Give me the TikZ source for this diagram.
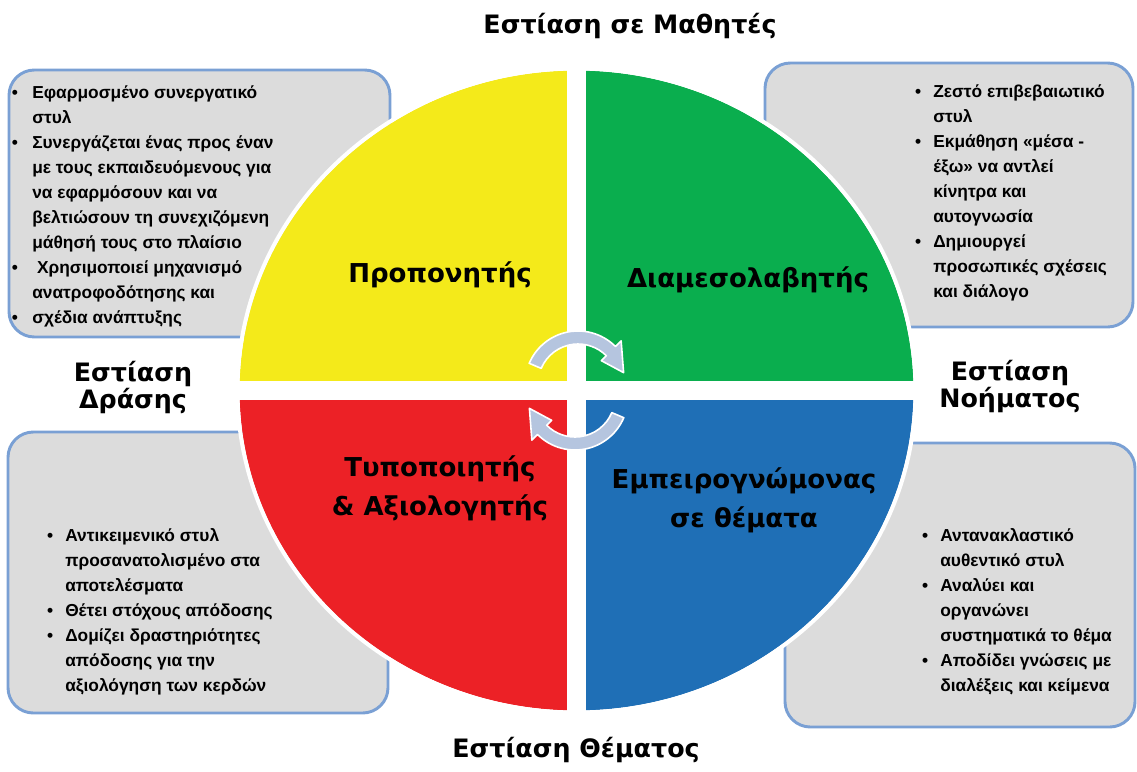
\documentclass[tikz,border=0pt]{standalone}
\usepackage{fontspec}
\setmainfont{Liberation Sans}
\newfontfamily\headfont{DejaVu Sans}
\usepackage{tikz}
\usetikzlibrary{positioning}

\definecolor{quadyellow}{RGB}{244,234,26}
\definecolor{quadgreen}{RGB}{10,174,78}
\definecolor{quadred}{RGB}{236,33,38}
\definecolor{quadblue}{RGB}{31,111,182}
\definecolor{boxgray}{RGB}{220,220,220}
\definecolor{boxedge}{RGB}{122,160,212}
\definecolor{cyclefill}{RGB}{181,197,223}

\newcommand{\bul}[1][9pt]{\llap{\textbullet\hspace{#1}}}

\tikzset{
  boxpanel/.style={draw=boxedge, fill=boxgray, line width=2.2pt, rounded corners=19pt},
  bodytext/.style={anchor=north west, inner sep=0pt, align=left, font=\bfseries\fontsize{13}{18.75}\selectfont},
  headtext/.style={inner sep=0pt, align=center, font=\headfont\bfseries\fontsize{19}{20.25}\selectfont},
  roletext/.style={inner sep=0pt, align=center, font=\headfont\bfseries\fontsize{19.5}{29.5}\selectfont},
  cyclearrow/.style={fill=cyclefill, draw=white, line width=1.2pt, line join=round}
}

\begin{document}
\begin{tikzpicture}[x=0.75pt,y=0.75pt,yscale=-1,xscale=1]
\useasboundingbox (0,0) rectangle (1137,771);

%Rounded Rect [id:tl]
\draw [boxpanel] (9,70) rectangle (390,337);
%Rounded Rect [id:tr]
\draw [boxpanel] (765,63) rectangle (1133,327);
%Rounded Rect [id:bl]
\draw [boxpanel] (8,432) rectangle (388,713);
%Rounded Rect [id:br]
\draw [boxpanel] (785,443) rectangle (1135,727);

%Quarters of the disc
\begin{scope}
\clip (576.5,390.5) ellipse [x radius=337, y radius=320];
\fill [quadyellow] (230,60) rectangle (576.5,390.5);
\fill [quadgreen] (576.5,60) rectangle (925,390.5);
\fill [quadred] (230,390.5) rectangle (576.5,720);
\fill [quadblue] (576.5,390.5) rectangle (925,720);
\end{scope}
%White cross and rim
\fill [white] (567,50) rectangle (586,730);
\fill [white] (225,380.5) rectangle (930,399.5);
\draw [white, line width=3pt] (576.5,390.5) ellipse [x radius=339, y radius=322];

%Cycle arrows
\foreach \cx/\cy/\rot in {578/384/0, 575/397/180}{
  \begin{scope}[shift={(\cx,\cy)}, yscale=-1, rotate=\rot]
  \filldraw [cyclearrow] (157:40) arc [start angle=157, end angle=45, radius=40] -- (45:33) -- (14:47) -- (45:61) -- (45:53) arc [start angle=45, end angle=157, radius=53] -- cycle;
  \end{scope}
}

% Text Node
\node (focuslearners) [headtext] at (630,26) {Εστίαση σε Μαθητές};
% Text Node
\node (focussubject) [headtext] at (576,750) {Εστίαση Θέματος};
% Text Node
\node (focusaction) [headtext] at (133,387) {Εστίαση\\Δράσης};
% Text Node
\node (focusmeaning) [headtext] at (1010,387) {Εστίαση\\Νοήματος};

% Text Node
\node (coach) [roletext] at (440,275) {Προπονητής};
% Text Node
\node (mediator) [roletext] at (748,280) {Διαμεσολαβητής};
% Text Node
\node (assessor) [roletext] at (440,488) {Τυποποιητής\\\& Αξιολογητής};
% Text Node
\node (expert) [roletext] at (744,500) {Εμπειρογνώμονας\\σε θέματα};

% Text Node
\node (coachlist) [bodytext] at (32,85) {\bul[10.8pt]Εφαρμοσμένο συνεργατικό\\στυλ\\\bul[10.8pt]Συνεργάζεται ένας προς έναν\\με τους εκπαιδευόμενους για\\να εφαρμόσουν και να\\βελτιώσουν τη συνεχιζόμενη\\μάθησή τους στο πλαίσιο\\\bul[10.8pt]\ Χρησιμοποιεί μηχανισμό\\ανατροφοδότησης και\\\bul[10.8pt]σχέδια ανάπτυξης};
% Text Node
\node (mediatorlist) [bodytext] at (933,84) {\bul Ζεστό επιβεβαιωτικό\\στυλ\\\bul Εκμάθηση «μέσα -\\έξω» να αντλεί\\κίνητρα και\\αυτογνωσία\\\bul Δημιουργεί\\προσωπικές σχέσεις\\και διάλογο};
% Text Node
\node (assessorlist) [bodytext] at (65,528) {\bul Αντικειμενικό στυλ\\προσανατολισμένο στα\\αποτελέσματα\\\bul Θέτει στόχους απόδοσης\\\bul Δομίζει δραστηριότητες\\απόδοσης για την\\αξιολόγηση των κερδών};
% Text Node
\node (expertlist) [bodytext] at (940,528) {\bul Αντανακλαστικό\\αυθεντικό στυλ\\\bul Αναλύει και\\οργανώνει\\συστηματικά το θέμα\\\bul Αποδίδει γνώσεις με\\διαλέξεις και κείμενα};

\end{tikzpicture}
\end{document}
